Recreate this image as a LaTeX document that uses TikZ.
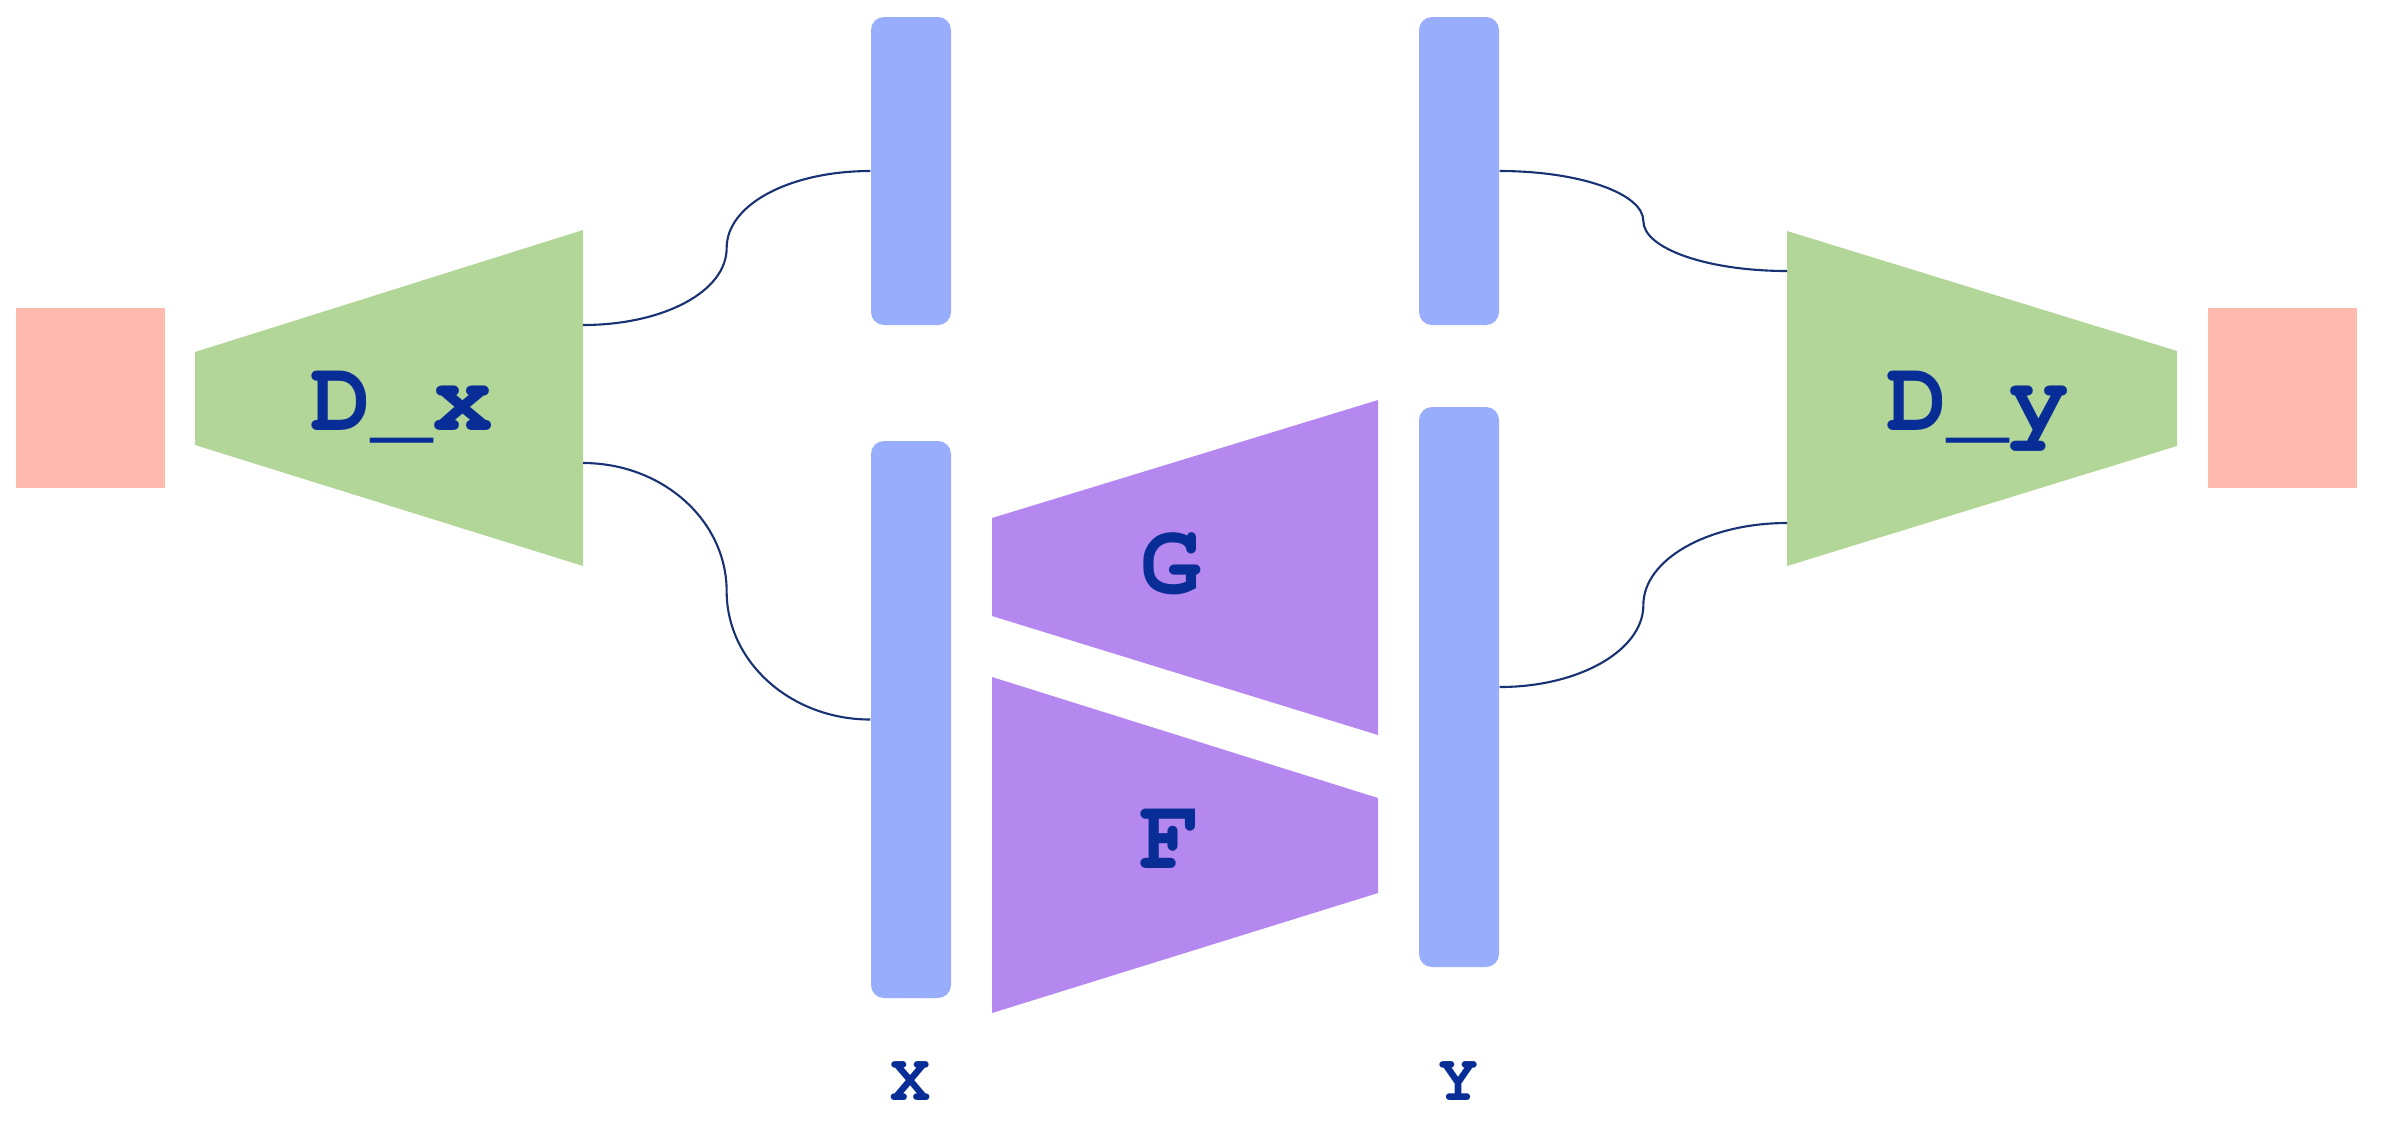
\documentclass[tikz,border=0pt]{standalone}
\usepackage[T1,TU]{fontenc}
\usetikzlibrary{calc}

\definecolor{pinkbox}{RGB}{254,186,175}
\definecolor{discgreen}{RGB}{178,214,152}
\definecolor{barblue}{RGB}{153,173,253}
\definecolor{genpurple}{RGB}{181,136,240}
\definecolor{textblue}{RGB}{8,45,150}
\definecolor{linkblue}{RGB}{25,50,115}

\newcommand{\courierbold}[1]{\fontencoding{T1}\fontfamily{pcr}\fontseries{b}\fontsize{#1}{#1}\selectfont}

\begin{document}
\begin{tikzpicture}[
    bar/.style = {fill = barblue, rounded corners = 0.13cm, minimum width = 0.8cm, inner sep = 0pt},
    netlabel/.style = {anchor = base, text = textblue, font = \courierbold{29}},
    axislabel/.style = {anchor = base, text = textblue, font = \courierbold{19}},
    link/.style = {draw = linkblue, line width = 0.6pt}
  ]
    \useasboundingbox (0, 0) rectangle (23.9, -11.45);
    % outputs of the discriminators
    \node[fill = pinkbox, minimum width = 1.49cm, minimum height = 1.80cm, inner sep = 0pt] (Out X) at (0.905, -3.98) {};
    \node[fill = pinkbox, minimum width = 1.49cm, minimum height = 1.80cm, inner sep = 0pt] (Out Y) at (22.82, -3.98) {};
    % discriminators
    \fill[discgreen] (1.95, -3.52) -- (5.83, -2.30) -- (5.83, -5.66) -- (1.95, -4.45) -- cycle;
    \fill[discgreen] (17.87, -2.31) -- (21.77, -3.51) -- (21.77, -4.46) -- (17.87, -5.66) -- cycle;
    \coordinate (Dx Up) at (5.83, -3.25);
    \coordinate (Dx Down) at (5.83, -4.63);
    \coordinate (Dy Up) at (17.87, -2.71);
    \coordinate (Dy Down) at (17.87, -5.23);
    % generators
    \fill[genpurple] (9.92, -5.18) -- (13.78, -4.00) -- (13.78, -7.35) -- (9.92, -6.16) -- cycle;
    \fill[genpurple] (9.92, -6.77) -- (13.78, -7.98) -- (13.78, -8.93) -- (9.92, -10.13) -- cycle;
    % samples
    \node[bar, minimum height = 3.08cm] (X Top) at (9.11, -1.71) {};
    \node[bar, minimum height = 5.57cm] (X Bottom) at (9.11, -7.195) {};
    \node[bar, minimum height = 3.08cm] (Y Top) at (14.59, -1.71) {};
    \node[bar, minimum height = 5.60cm] (Y Bottom) at (14.59, -6.87) {};
    % labels
    \node[netlabel] (Dx) at (4.02, -4.30) {D\_x};
    \node[netlabel] (Dy) at (19.78, -4.30) {D\_y};
    \node[netlabel] (G) at (11.71, -5.93) {G};
    \node[netlabel] (F) at (11.70, -8.68) {F};
    \node[axislabel] (X) at (9.11, -11.0) {X};
    \node[axislabel] (Y) at (14.59, -11.0) {Y};
    % connections
    \draw[link] (Dx Up) .. controls +(0.795, 0) and +(0, -0.44) .. ($(Dx Up)!0.5!(X Top.west)$)
      .. controls +(0, 0.44) and +(-0.795, 0) .. (X Top.west);
    \draw[link] (Dx Down) .. controls +(0.795, 0) and +(0, 0.707) .. ($(Dx Down)!0.5!(X Bottom.west)$)
      .. controls +(0, -0.707) and +(-0.795, 0) .. (X Bottom.west);
    \draw[link] (Y Top.east) .. controls +(0.795, 0) and +(0, 0.276) .. ($(Y Top.east)!0.5!(Dy Up)$)
      .. controls +(0, -0.276) and +(-0.795, 0) .. (Dy Up);
    \draw[link] (Y Bottom.east) .. controls +(0.795, 0) and +(0, -0.453) .. ($(Y Bottom.east)!0.5!(Dy Down)$)
      .. controls +(0, 0.453) and +(-0.795, 0) .. (Dy Down);
\end{tikzpicture}
\end{document}
